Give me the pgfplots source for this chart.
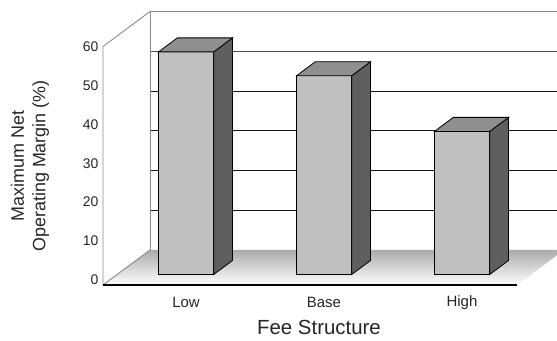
\documentclass[border=0pt]{standalone}
\usepackage{pgfplots}
\pgfplotsset{compat=1.18}
\usepackage{fontspec}
\setmainfont{Liberation Sans}
\definecolor{barfront}{HTML}{C0C0C0}
\definecolor{barside}{HTML}{5F5F5F}
\definecolor{bartop}{HTML}{8F8F8F}
\definecolor{wallline}{HTML}{8A8A8A}
% bar: left x, right x, value
\newcommand{\drawbar}[3]{%
  \addplot3[draw=black, line width=0.8bp, fill=barfront] coordinates {(#1,0.3,0) (#2,0.3,0) (#2,0.3,#3) (#1,0.3,#3)} -- cycle;
  \addplot3[draw=black, line width=0.8bp, fill=barside] coordinates {(#2,0.3,0) (#2,0.7,0) (#2,0.7,#3) (#2,0.3,#3)} -- cycle;
  \addplot3[draw=black, line width=0.8bp, fill=bartop] coordinates {(#1,0.3,#3) (#2,0.3,#3) (#2,0.7,#3) (#1,0.7,#3)} -- cycle;
}
\begin{document}
\begin{tikzpicture}
\begin{axis}[
  x={(138bp,0bp)}, y={(47bp,35bp)}, z={(0bp,3.975bp)},
  xmin=-0.5, xmax=2.5, ymin=0, ymax=1, zmin=0, zmax=60,
  hide axis, clip=false,
]
\coordinate (O) at (axis cs:-0.5,0,0);
% back wall
\fill[white] (axis cs:-0.5,1,0) -- (axis cs:2.5,1,0) -- (axis cs:2.5,1,60) -- (axis cs:-0.5,1,60) -- cycle;
% floor
\shade[top color=black!33, bottom color=white] (axis cs:-0.5,0,0) -- (axis cs:2.5,0,0) -- (axis cs:2.5,1,0) -- (axis cs:-0.5,1,0) -- cycle;
% gridlines
\pgfplotsinvokeforeach{10,20,30,40}{
  \draw[black!90, line width=0.9bp] (axis cs:-0.5,1,#1) -- (axis cs:2.5,1,#1);
}
\draw[black!70, line width=1.3bp] (axis cs:-0.5,1,50) -- (axis cs:2.5,1,50);
\draw[wallline, line width=1.5bp] (axis cs:-0.5,1,60) -- (axis cs:2.5,1,60);
% walls outline
\draw[wallline, line width=0.9bp] (axis cs:-0.5,1,0) -- (axis cs:-0.5,1,60);
\draw[wallline, line width=0.9bp] (axis cs:-0.5,0,0) -- (axis cs:-0.5,0,60) -- (axis cs:-0.5,1,60);
\draw[wallline, line width=0.9bp] (axis cs:-0.5,0,0) -- (axis cs:-0.5,1,0);
\draw[black, line width=1.2bp] (axis cs:-0.5,0,0) -- (axis cs:2.5,0,0);
% bars
\drawbar{-0.2}{0.2}{56}
\drawbar{0.8}{1.2}{50}
\drawbar{1.8}{2.2}{36}
% tick labels
\pgfplotsinvokeforeach{0,10,20,30,40,50,60}{
  \node[anchor=east, inner sep=0pt, font=\fontsize{14}{16}\selectfont, text=black!85]
    at (axis cs:-0.5,0,#1) [xshift=-4.5bp, yshift={5bp*(60-#1)/60}] {#1};
}
\node[font=\fontsize{15}{18}\selectfont, text=black!85] at (axis cs:0,0,0) [xshift=14bp, yshift=-17.5bp] {Low};
\node[font=\fontsize{15}{18}\selectfont, text=black!85] at (axis cs:1,0,0) [xshift=14bp, yshift=-17.5bp] {Base};
\node[font=\fontsize{15}{18}\selectfont, text=black!85] at (axis cs:2,0,0) [xshift=14bp, yshift=-17.5bp] {High};
\end{axis}
\node[font=\fontsize{20.5}{24}\selectfont, text=black!85] at ([shift={(216bp,-42bp)}]O) {Fee Structure};
\node[rotate=90, align=center, font=\fontsize{18}{21.5}\selectfont, text=black!85] at ([shift={(-73bp,119bp)}]O) {Maximum Net\\Operating Margin (\%)};
\pgfresetboundingbox
\path[use as bounding box] ([shift={(-103bp,-56bp)}]O) rectangle ([shift={(454bp,285bp)}]O);
\end{tikzpicture}
\end{document}
